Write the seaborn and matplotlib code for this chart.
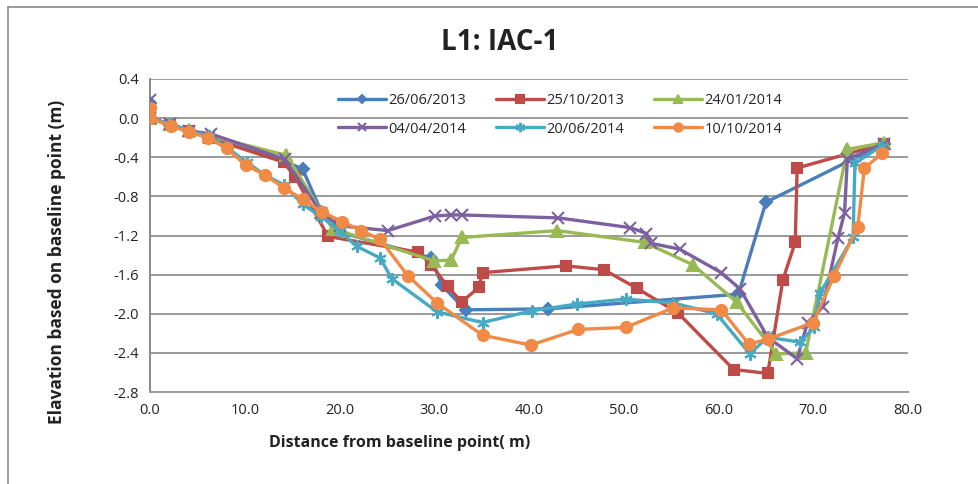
import matplotlib
matplotlib.use("Agg")
import matplotlib.pyplot as plt
import seaborn as sns
import pandas as pd
from matplotlib.lines import Line2D

# ---------------- data ----------------
labels = ["26/06/2013", "25/10/2013", "24/01/2014", "04/04/2014", "20/06/2014", "10/10/2014"]

x_2606_2013 = [0, 0, 2.1, 4.1, 6.2, 14.2, 16.1, 18.1, 19.5, 29.7, 30.8, 33.3, 42.0, 62.1, 65.0, 77.5]
y_2606_2013 = [0.15, 0.0, -0.07, -0.13, -0.20, -0.44, -0.52, -0.96, -1.15, -1.43, -1.71, -1.96, -1.95, -1.80, -0.86, -0.26]

x_2510_2013 = [0, 2.1, 4.1, 6.2, 14.1, 15.3, 18.8, 28.3, 29.7, 31.4, 32.9, 34.7, 35.1, 43.9, 47.9, 51.4, 55.7, 61.6, 65.2, 66.8, 68.1, 68.3, 77.5]
y_2510_2013 = [0.0, -0.07, -0.13, -0.20, -0.45, -0.60, -1.21, -1.37, -1.50, -1.72, -1.88, -1.73, -1.58, -1.51, -1.55, -1.74, -1.99, -2.57, -2.61, -1.65, -1.27, -0.51, -0.26]

x_2401_2014 = [0, 2.1, 4.1, 6.2, 14.4, 18.1, 19.3, 30.0, 31.8, 32.9, 43.0, 52.2, 57.3, 61.9, 66.1, 69.2, 73.6, 77.5]
y_2401_2014 = [0.0, -0.06, -0.12, -0.18, -0.38, -0.96, -1.13, -1.46, -1.45, -1.22, -1.15, -1.27, -1.50, -1.88, -2.41, -2.40, -0.32, -0.25]

x_0404_2014 = [0, 0, 2.1, 4.1, 6.4, 14.2, 18.1, 20.0, 25.1, 30.1, 31.8, 32.9, 43.1, 50.7, 52.4, 52.9, 55.9, 60.3, 62.3, 65.2, 68.3, 69.4, 71.0, 72.6, 73.3, 73.6, 77.5]
y_0404_2014 = [0.19, 0.0, -0.06, -0.13, -0.16, -0.42, -0.97, -1.10, -1.15, -1.00, -0.99, -0.99, -1.02, -1.12, -1.18, -1.28, -1.34, -1.58, -1.75, -2.24, -2.46, -2.09, -1.93, -1.23, -0.97, -0.42, -0.26]

x_2006_2014 = [0, 2.1, 4.1, 6.2, 8.1, 10.2, 12.1, 14.1, 16.1, 18.1, 20.0, 21.8, 24.3, 25.5, 30.3, 35.1, 40.3, 45.1, 50.2, 55.2, 59.8, 63.3, 65.2, 68.6, 70.1, 70.7, 74.2, 74.4, 77.3]
y_2006_2014 = [0.0, -0.06, -0.13, -0.18, -0.30, -0.45, -0.58, -0.68, -0.88, -1.01, -1.15, -1.31, -1.43, -1.64, -1.98, -2.09, -1.97, -1.90, -1.85, -1.89, -2.00, -2.41, -2.24, -2.29, -2.14, -1.79, -1.22, -0.46, -0.28]

x_1010_2014 = [0, 0, 2.2, 4.1, 6.1, 8.1, 10.1, 12.1, 14.1, 16.1, 18.2, 20.3, 22.3, 24.3, 27.2, 30.3, 35.1, 40.2, 45.2, 50.2, 55.2, 60.3, 63.2, 65.2, 70.0, 72.2, 74.7, 75.4, 77.3]
y_1010_2014 = [0.10, 0.0, -0.08, -0.14, -0.20, -0.31, -0.48, -0.58, -0.71, -0.83, -0.96, -1.06, -1.15, -1.24, -1.61, -1.89, -2.22, -2.32, -2.16, -2.14, -1.94, -1.96, -2.31, -2.26, -2.09, -1.61, -1.11, -0.51, -0.36]

xs = [x_2606_2013, x_2510_2013, x_2401_2014, x_0404_2014, x_2006_2014, x_1010_2014]
ys = [y_2606_2013, y_2510_2013, y_2401_2014, y_0404_2014, y_2006_2014, y_1010_2014]

x_ticks = [0, 10, 20, 30, 40, 50, 60, 70, 80]
y_ticks = [0.4, 0.0, -0.4, -0.8, -1.2, -1.6, -2.0, -2.4, -2.8]

colors = ["#4A7EBB", "#BE4B48", "#98B954", "#7D60A0", "#46AAC5", "#F08A45"]
markers = ["D", "s", "^", "x", (6, 2, 0), "o"]
msizes = [6, 7, 8, 8, 9, 8]

sns.set_theme(style="white")
plt.rcParams['font.family'] = ['Open Sans', 'DejaVu Sans']

fig = plt.figure(figsize=(9.79, 4.84), dpi=100)
ax = fig.add_axes([150/979, 1-392/484, 758/979, 313/484])

for i, lab in enumerate(labels):
    df = pd.DataFrame({"x": xs[i], "y": ys[i]})
    sns.lineplot(data=df, x="x", y="y", ax=ax, sort=False, estimator=None,
                 color=colors[i], lw=2.4, marker=markers[i], ms=msizes[i],
                 mec=colors[i], mfc=colors[i], mew=1.5, label=lab, zorder=3+i)

ax.set_xlim(0, 80)
ax.set_ylim(-2.8, 0.4)
ax.set_xticks(x_ticks)
ax.set_xticklabels([f"{v:.1f}" for v in x_ticks])
ax.set_yticks(y_ticks)
ax.set_yticklabels([f"{v:.1f}" for v in y_ticks])
ax.tick_params(axis='both', labelsize=10.5, colors="#222222", length=0, pad=8)
ax.yaxis.grid(True, color="#9a9a9a", lw=1.4)
ax.xaxis.grid(False)
for s in ["top", "right"]:
    ax.spines[s].set_visible(False)
ax.spines["left"].set_color("#8a8a8a")
ax.spines["left"].set_linewidth(1.4)
ax.spines["bottom"].set_color("#9a9a9a")
ax.spines["bottom"].set_linewidth(1.4)
ax.set_xlabel("")
ax.set_ylabel("")

handles, labs = ax.get_legend_handles_labels()
order = [0, 3, 1, 4, 2, 5]
ax.legend([handles[k] for k in order], [labs[k] for k in order], ncol=3,
          loc="center", bbox_to_anchor=(0.541, 0.885), frameon=False,
          fontsize=10.5, handlelength=3.3, columnspacing=2.0, labelspacing=0.9,
          handletextpad=0.2, markerscale=0.75)

fig.text(500/979, 1-42/484, "L1: IAC-1", ha="center", va="center",
         fontsize=20, fontweight="bold", color="#222222")
fig.text(400/979, 1-443/484, "Distance from baseline point( m)", ha="center", va="center",
         fontsize=11.5, fontweight="bold", color="#222222")
fig.text(57/979, 1-262/484, "Elavation based on baseline point (m)", ha="center", va="center",
         rotation=90, fontsize=12.5, fontweight="bold", color="#222222")

# outer chart border
fig.add_artist(Line2D([8/979, 8/979], [0, 1-7/484], transform=fig.transFigure, color="#8a8a8a", lw=1.2))
fig.add_artist(Line2D([8/979, 1], [1-7/484, 1-7/484], transform=fig.transFigure, color="#8a8a8a", lw=1.2))

fig.savefig("out.png", dpi=100)
